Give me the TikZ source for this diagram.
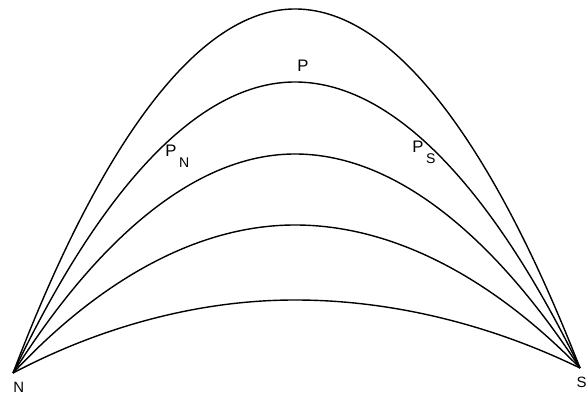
\documentclass[tikz,border=0pt]{standalone}
\usepackage{fontspec}
\setmainfont{Liberation Sans}
\newcommand{\lbl}[2]{#1\hspace{1.5pt}\raisebox{-5.8pt}{\fontsize{8}{8}\selectfont #2}}
\tikzset{
  arco/.style={line width=0.8pt},
  etichetta/.style={font=\fontsize{9.5}{10}\selectfont, inner sep=0pt}
}
\begin{document}
\begin{tikzpicture}[x=0.02cm,y=-0.02cm]
  \useasboundingbox (0,0) rectangle (588,394);

  % poli
  \coordinate (N) at (13,373);
  \coordinate (S) at (580,368);

  % archi
  \foreach \h/\nome in {9/a, 82/b, 154/c, 225/d, 300/e} {
    \coordinate (\nome) at (295,\h);
    \draw[arco] (N) parabola bend (\nome) (S);
  }

  % etichette
  \node[etichetta,anchor=base west] (lp) at (297,72) {P};
  \node[etichetta,anchor=base west] (lpn) at (165,157) {\lbl{P}{N}};
  \node[etichetta,anchor=base west] (lps) at (412,153) {\lbl{P}{S}};
  \node[etichetta,anchor=base west,font=\fontsize{8.5}{9}\selectfont] (ln) at (13,393) {N};
  \node[etichetta,anchor=base east,font=\fontsize{8.5}{9}\selectfont] (ls) at (587,388) {S};
\end{tikzpicture}
\end{document}
